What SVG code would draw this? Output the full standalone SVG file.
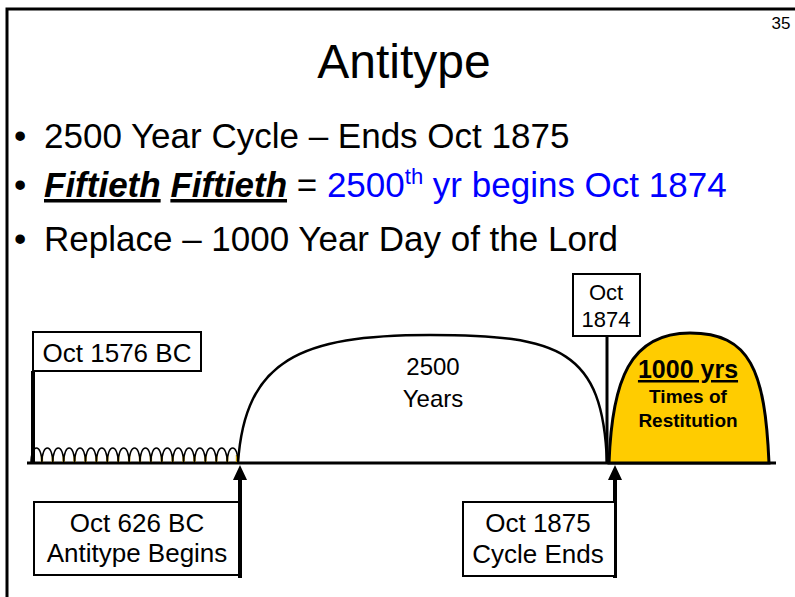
<svg xmlns="http://www.w3.org/2000/svg" width="795" height="597" viewBox="0 0 795 597">
<defs>
<style>
text{font-family:"Liberation Sans",Arial,sans-serif;fill:#000}
.box{fill:#fff;stroke:#000;stroke-width:2}
.lbl{font-size:26px;text-anchor:middle}
.bul{font-size:35px}
.ln{stroke:#000;fill:none}
</style>
</defs>
<rect width="795" height="597" fill="#fff"/>
<path d="M7,597 L7,9 L795,9" class="ln" stroke-width="3"/>
<text x="781" y="29" font-size="17" text-anchor="middle">35</text>
<text x="404" y="78" font-size="48" text-anchor="middle">Antitype</text>
<g id="bullets">
<text x="14" y="148" class="bul">•</text>
<text x="44" y="148" class="bul">2500 Year Cycle – Ends Oct 1875</text>
<text x="14" y="197" class="bul">•</text>
<text x="44" y="197" class="bul"><tspan font-weight="bold" font-style="italic" text-decoration="underline">Fiftieth</tspan> <tspan font-weight="bold" font-style="italic" text-decoration="underline">Fiftieth</tspan> = <tspan fill="#0000ff">2500</tspan><tspan fill="#0000ff" font-size="22" dy="-13">th</tspan><tspan fill="#0000ff" dy="13"> yr begins Oct 1874</tspan></text>
<text x="14" y="251" class="bul">•</text>
<text x="44" y="251" class="bul">Replace – 1000 Year Day of the Lord</text>
</g>
<g id="timeline">
<line x1="27" y1="463" x2="776" y2="463" stroke="#000" stroke-width="3"/>
</g>
<g id="scallops">
<g stroke="#c9a000" stroke-width="2.4">
<line x1="41.9" y1="455" x2="41.9" y2="462"/><line x1="52.8" y1="455" x2="52.8" y2="462"/><line x1="63.7" y1="455" x2="63.7" y2="462"/><line x1="74.6" y1="455" x2="74.6" y2="462"/><line x1="85.5" y1="455" x2="85.5" y2="462"/><line x1="96.4" y1="455" x2="96.4" y2="462"/><line x1="107.3" y1="455" x2="107.3" y2="462"/><line x1="118.2" y1="455" x2="118.2" y2="462"/><line x1="129.1" y1="455" x2="129.1" y2="462"/><line x1="140" y1="455" x2="140" y2="462"/><line x1="150.9" y1="455" x2="150.9" y2="462"/><line x1="161.8" y1="455" x2="161.8" y2="462"/><line x1="172.7" y1="455" x2="172.7" y2="462"/><line x1="183.6" y1="455" x2="183.6" y2="462"/><line x1="194.5" y1="455" x2="194.5" y2="462"/><line x1="205.4" y1="455" x2="205.4" y2="462"/><line x1="216.3" y1="455" x2="216.3" y2="462"/><line x1="227.2" y1="455" x2="227.2" y2="462"/><line x1="237" y1="455" x2="237" y2="462"/>
</g>
<path class="ln" stroke-width="1.5" d="M31,463 C31,443 41.9,443 41.9,463 C41.9,443 52.8,443 52.8,463 C52.8,443 63.7,443 63.7,463 C63.7,443 74.6,443 74.6,463 C74.6,443 85.5,443 85.5,463 C85.5,443 96.4,443 96.4,463 C96.4,443 107.3,443 107.3,463 C107.3,443 118.2,443 118.2,463 C118.2,443 129.1,443 129.1,463 C129.1,443 140,443 140,463 C140,443 150.9,443 150.9,463 C150.9,443 161.8,443 161.8,463 C161.8,443 172.7,443 172.7,463 C172.7,443 183.6,443 183.6,463 C183.6,443 194.5,443 194.5,463 C194.5,443 205.4,443 205.4,463 C205.4,443 216.3,443 216.3,463 C216.3,443 227.2,443 227.2,463 C227.2,443 238.1,443 238.1,463"/>
</g>
<g id="arch2500">
<path class="ln" stroke-width="2.5" d="M238,463 C245,360 300,335 430,335 C560,335 603,350 607,463"/>
<text x="433" y="375" font-size="24" text-anchor="middle">2500</text>
<text x="433" y="407" font-size="24" text-anchor="middle">Years</text>
</g>
<g id="arch1000">
<path d="M609,463 C612,380 630,333 690,333 C750,333 765,370 769,463 Z" fill="#ffcc00" stroke="#000" stroke-width="3"/>
<text x="688" y="378" font-size="25" font-weight="bold" text-anchor="middle" text-decoration="underline">1000 yrs</text>
<text x="688" y="403" font-size="19" font-weight="bold" text-anchor="middle">Times of</text>
<text x="688" y="427" font-size="19" font-weight="bold" text-anchor="middle">Restitution</text>
</g>
<g id="connectors">
<line x1="33" y1="371" x2="33" y2="463" stroke="#000" stroke-width="4"/>
<line x1="607" y1="336" x2="607" y2="463" stroke="#000" stroke-width="3"/>
<line x1="240" y1="578" x2="240" y2="479" stroke="#000" stroke-width="4"/>
<polygon points="233,480 247,480 240,465" fill="#000"/>
<line x1="615" y1="578" x2="615" y2="479" stroke="#000" stroke-width="4"/>
<polygon points="608,480 622,480 615,465" fill="#000"/>
</g>
<g id="n1576">
<rect x="33" y="332" width="168" height="39" class="box"/>
<text x="117" y="362" class="lbl">Oct 1576 BC</text>
</g>
<g id="n1874">
<rect x="573" y="274" width="67" height="62" class="box"/>
<text x="606" y="300" font-size="22" text-anchor="middle">Oct</text>
<text x="606" y="327" font-size="22" text-anchor="middle">1874</text>
</g>
<g id="n626">
<rect x="34" y="502" width="205" height="73" class="box"/>
<text x="137" y="532" class="lbl">Oct 626 BC</text>
<text x="137" y="562" class="lbl">Antitype Begins</text>
</g>
<g id="n1875">
<rect x="463" y="502" width="152" height="74" class="box"/>
<text x="538" y="532" class="lbl">Oct 1875</text>
<text x="538" y="563" class="lbl">Cycle Ends</text>
</g>
</svg>
